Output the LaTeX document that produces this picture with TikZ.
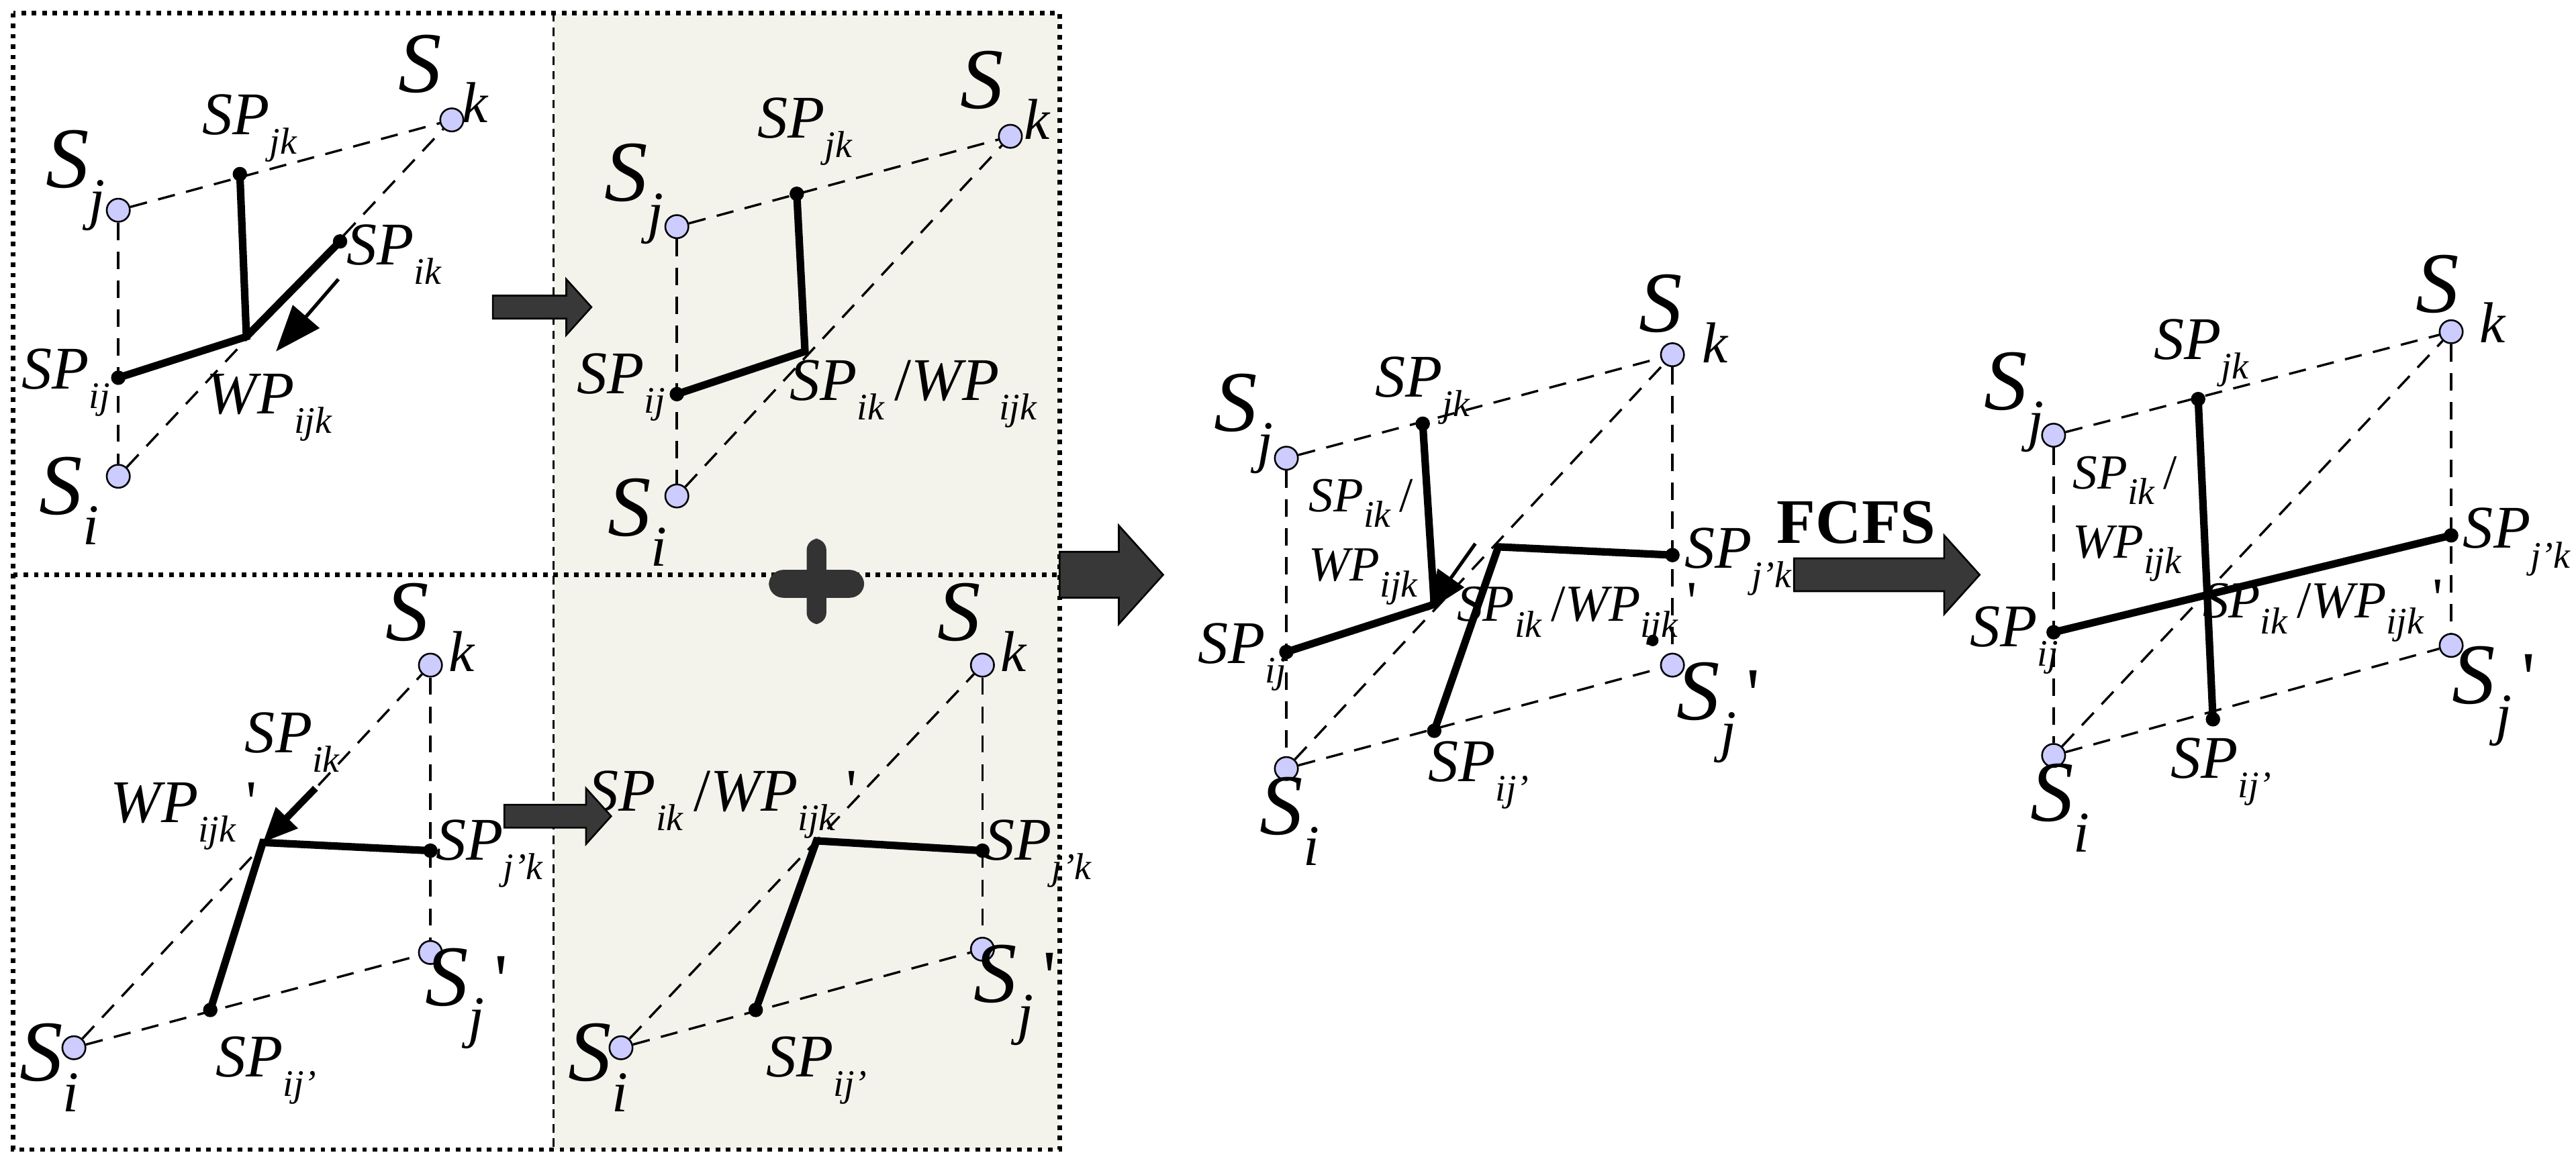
\documentclass[tikz,border=0pt]{standalone}
\usepackage{fontspec}
\setmainfont{Liberation Serif}
\usetikzlibrary{arrows.meta}
\newcommand{\lbl}[2]{\textit{#1}\raisebox{-0.7ex}{\fontsize{13}{13}\selectfont\textit{#2}}}
\newcommand{\bigS}[1]{{\fontsize{30}{30}\selectfont\textit{S}}\raisebox{-1.1ex}{\fontsize{20}{20}\selectfont\textit{#1}}}
\newcommand{\bigSk}{{\fontsize{30}{30}\selectfont\textit{S}}\hspace{7pt}\raisebox{-1.1ex}{\fontsize{20}{20}\selectfont\textit{k}}}
\newcommand{\prm}{\,{\fontsize{26}{26}\selectfont\textquotesingle}}
\newcommand{\blockarrow}[6]{%
  \coordinate (#1) at (#2,#4);
  \fill[fill=black!78,draw=black,line width=0.6pt] (#2,#4-#5) -- ({#3-(#6)*0.9},#4-#5) -- ({#3-(#6)*0.9},#4-#6) -- (#3,#4) -- ({#3-(#6)*0.9},#4+#6) -- ({#3-(#6)*0.9},#4+#5) -- (#2,#4+#5) -- cycle;}
\definecolor{panel}{HTML}{F3F3EC}
\begin{document}
\begin{tikzpicture}[x=0.02cm,y=-0.02cm,
  site/.style={circle,draw=black,fill=blue!20,inner sep=0pt,minimum size=8pt,line width=0.6pt},
  pt/.style={circle,fill=black,inner sep=0pt,minimum size=5pt},
  dsh/.style={dashed,dash pattern=on 6pt off 4pt,line width=0.8pt},
  thk/.style={line width=2.6pt},
  lab/.style={font=\fontsize{21}{21}\selectfont,inner sep=1pt},
  slab/.style={font=\fontsize{18}{18}\selectfont,inner sep=1pt},
  stack/.style={font=\fontsize{17}{24}\selectfont,inner sep=1pt,align=left}]
\useasboundingbox (0,0) rectangle (1568,708);
\fill[panel] (337,8) rectangle (645,700);
\draw[dotted,line width=1.6pt] (8,8) rectangle (645,700);
\draw[densely dashed,line width=0.8pt] (337,8) -- (337,700);
\draw[dotted,line width=1.6pt] (8,350) -- (645,350);
% ---------- panel 1
\node[site] (a1j) at (72,128) {};
\node[site] (a1k) at (275,73) {};
\node[site] (a1i) at (72,290) {};
\node[pt] (a1jk) at (146,106) {};
\node[pt] (a1ij) at (72,230) {};
\node[pt] (a1ik) at (207,147) {};
\coordinate (a1w) at (150,205);
\draw[dsh] (a1j) -- (a1k); \draw[dsh] (a1j) -- (a1i); \draw[dsh] (a1i) -- (a1k);
\draw[thk] (a1jk.center) -- (a1w) -- (a1ij.center); \draw[thk] (a1w) -- (a1ik.center);
\coordinate (a1s) at (206,170); \coordinate (a1e) at (168,214);
\draw[line width=1.2pt,-{Triangle[length=16pt,width=12pt]}] (a1s) -- (a1e);
\node[lab] at (46,110) {\bigS{j}};
\node[lab] at (270,48) {\bigSk};
\node[lab] at (42,305) {\bigS{i}};
\node[lab] at (152,78) {\lbl{SP}{jk}};
\node[lab] at (240,155) {\lbl{SP}{ik}};
\node[lab] at (40,233) {\lbl{SP}{ij}};
\node[lab] at (164,248) {\lbl{WP}{ijk}};
% ---------- panel 2
\node[site] (b1j) at (412,138) {};
\node[site] (b1k) at (615,83) {};
\node[site] (b1i) at (412,302) {};
\node[pt] (b1jk) at (485,118) {};
\node[pt] (b1ij) at (412,240) {};
\coordinate (b1w) at (490,214);
\draw[dsh] (b1j) -- (b1k); \draw[dsh] (b1j) -- (b1i); \draw[dsh] (b1i) -- (b1k);
\draw[thk] (b1jk.center) -- (b1w) -- (b1ij.center);
\node[lab] at (386,118) {\bigS{j}};
\node[lab] at (612,58) {\bigSk};
\node[lab] at (388,318) {\bigS{i}};
\node[lab] at (490,80) {\lbl{SP}{jk}};
\node[lab] at (378,236) {\lbl{SP}{ij}};
\node[lab] at (556,240) {\lbl{SP}{ik}\,/\lbl{WP}{ijk}};
% ---------- panel 3 (lower left)
\node[site] (c1k) at (262,405) {};
\node[site] (c1jp) at (262,580) {};
\node[site] (c1i) at (45,638) {};
\node[pt] (c1jpk) at (262,518) {};
\node[pt] (c1ijp) at (128,615) {};
\coordinate (c1w) at (160,513);
\draw[dsh] (c1i) -- (c1k); \draw[dsh] (c1k) -- (c1jp); \draw[dsh] (c1i) -- (c1jp);
\draw[thk] (c1jpk.center) -- (c1w) -- (c1ijp.center);
\draw[line width=2.4pt,-{Triangle[length=12pt,width=10pt]}] (192,480) -- (c1w);
\node[lab] at (262,382) {\bigSk};
\node[lab] at (284,608) {\bigS{j}\prm};
\node[lab] at (30,650) {\bigS{i}};
\node[lab] at (178,452) {\lbl{SP}{ik}};
\node[lab] at (112,497) {\lbl{WP}{ijk}\,{\fontsize{21}{21}\selectfont\textquotesingle}};
\node[lab] at (298,520) {\lbl{SP}{j'k}};
\node[lab] at (162,652) {\lbl{SP}{ij'}};
% ---------- panel 4 (lower right)
\node[site] (d1k) at (598,405) {};
\node[site] (d1jp) at (598,578) {};
\node[site] (d1i) at (378,638) {};
\node[pt] (d1jpk) at (598,518) {};
\node[pt] (d1ijp) at (460,615) {};
\coordinate (d1w) at (497,512);
\draw[dsh] (d1i) -- (d1k); \draw[dsh] (d1k) -- (d1jp); \draw[dsh] (d1i) -- (d1jp);
\draw[thk] (d1jpk.center) -- (d1w) -- (d1ijp.center);
\node[lab] at (598,382) {\bigSk};
\node[lab] at (618,606) {\bigS{j}\prm};
\node[lab] at (364,650) {\bigS{i}};
\node[lab] at (440,490) {\lbl{SP}{ik}\,/\lbl{WP}{ijk}\,{\fontsize{21}{21}\selectfont\textquotesingle}};
\node[lab] at (632,520) {\lbl{SP}{j'k}};
\node[lab] at (497,652) {\lbl{SP}{ij'}};
% block arrows and plus
\blockarrow{ga1}{300}{360}{187}{7}{17}
\blockarrow{ga2}{307}{372}{497}{7}{17}
\blockarrow{ga3}{645}{708}{350}{14}{30}
\blockarrow{ga4}{1092}{1205}{350}{10}{24}
\fill[black!80,rounded corners=4pt] (491,328) rectangle (503,380);
\fill[black!80,rounded corners=5pt] (468,347) rectangle (526,364);
% ---------- panel 5
\node[site] (e1j) at (783,279) {};
\node[site] (e1k) at (1018,216) {};
\node[site] (e1i) at (783,468) {};
\node[site] (e1jp) at (1018,405) {};
\node[pt] (e1jk) at (866,258) {};
\node[pt] (e1ij) at (783,397) {};
\node[pt] (e1jpk) at (1018,338) {};
\node[pt] (e1ijp) at (873,445) {};
\node[pt,minimum size=4pt] (e1dot) at (1006,390) {};
\coordinate (e1w) at (873,368);
\coordinate (e1wp) at (912,333);
\draw[dsh] (e1j) -- (e1k); \draw[dsh] (e1j) -- (e1i); \draw[dsh] (e1i) -- (e1k);
\draw[dsh] (e1k) -- (e1jp); \draw[dsh] (e1i) -- (e1jp);
\draw[thk] (e1jk.center) -- (e1w) -- (e1ij.center);
\draw[thk] (e1jpk.center) -- (e1wp) -- (e1ijp.center);
\draw[line width=1.2pt,-{Triangle[length=14pt,width=11pt]}] (898,331) -- (869,372);
\node[lab] at (757,258) {\bigS{j}};
\node[lab] at (1025,194) {\bigSk};
\node[lab] at (785,500) {\bigS{i}};
\node[lab] at (1046,434) {\bigS{j}\prm};
\node[lab] at (866,238) {\lbl{SP}{jk}};
\node[stack] at (830,330) {\lbl{SP}{ik}\,/\\\lbl{WP}{ijk}};
\node[lab] at (756,400) {\lbl{SP}{ij}};
\node[lab] at (1058,342) {\lbl{SP}{j'k}};
\node[slab] at (960,374) {\lbl{SP}{ik}\,/\lbl{WP}{ijk}\,{\fontsize{20}{20}\selectfont\textquotesingle}};
\node[lab] at (900,472) {\lbl{SP}{ij'}};
\node[font=\fontsize{22}{22}\selectfont\bfseries] (fcfs) at (1130,318) {FCFS};
% ---------- panel 6
\node[site] (f1j) at (1250,265) {};
\node[site] (f1k) at (1492,202) {};
\node[site] (f1i) at (1250,460) {};
\node[site] (f1jp) at (1492,393) {};
\node[pt] (f1jk) at (1338,243) {};
\node[pt] (f1ijp) at (1347,438) {};
\node[pt] (f1ij) at (1250,385) {};
\node[pt] (f1jpk) at (1492,326) {};
\draw[dsh] (f1j) -- (f1k); \draw[dsh] (f1j) -- (f1i); \draw[dsh] (f1i) -- (f1k);
\draw[dsh] (f1k) -- (f1jp); \draw[dsh] (f1i) -- (f1jp);
\draw[thk] (f1jk.center) -- (f1ijp.center);
\draw[thk] (f1ij.center) -- (f1jpk.center);
\node[lab] at (1226,245) {\bigS{j}};
\node[lab] at (1498,182) {\bigSk};
\node[lab] at (1254,492) {\bigS{i}};
\node[lab] at (1518,424) {\bigS{j}\prm};
\node[lab] at (1340,215) {\lbl{SP}{jk}};
\node[stack] at (1295,316) {\lbl{SP}{ik}\,/\\\lbl{WP}{ijk}};
\node[lab] at (1226,390) {\lbl{SP}{ij}};
\node[lab] at (1532,330) {\lbl{SP}{j'k}};
\node[slab] at (1414,372) {\lbl{SP}{ik}\,/\lbl{WP}{ijk}\,{\fontsize{20}{20}\selectfont\textquotesingle}};
\node[lab] at (1352,470) {\lbl{SP}{ij'}};
\end{tikzpicture}
\end{document}
